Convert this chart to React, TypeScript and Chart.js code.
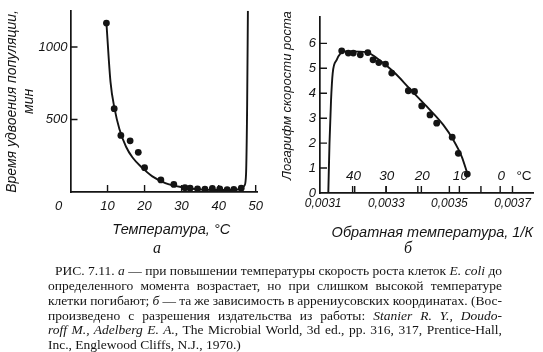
import React, { useEffect, useLayoutEffect, useRef } from "react";
import { Chart, registerables } from "chart.js";

Chart.register(...registerables);

// ---------- Panel "а": doubling time vs temperature ----------
const aTempC = [9.7, 11.8, 13.6, 16.1, 18.3, 20.0, 24.4, 27.9, 30.9, 32.3, 34.3, 36.3, 38.3, 40.3, 42.3, 44.1, 46.1];
const aDoublingMin = [1165, 575, 390, 353, 274, 168, 83, 52, 30, 26, 22, 20, 24, 22, 16, 18, 26];
const aFitTempC = [9.7, 10.8, 11.9, 13.2, 15.0, 16.75, 19.4, 22.1, 25.6, 30.1, 34.5, 38.9, 43.4, 46.1, 47.0, 47.4, 47.7, 47.9];
const aFitDoublingMin = [1165, 760, 575, 435, 312, 238, 166, 108, 62, 33, 18, 14, 14, 22, 46, 123, 605, 1250];
const aXTickLabels = [10, 20, 30, 40, 50];
const aXOriginLabel = "0";
const aYTickLabels = [500, 1000];
const aXTitle = "\u2002\u2002Температура, °C";
const aYTitle = ["Время удвоения популяции,", "мин"];

// ---------- Panel "б": Arrhenius coordinates ----------
const bInvT = [0.0031588, 0.0031797, 0.0031955, 0.0032177, 0.0032415, 0.003258, 0.0032763, 0.0032976, 0.0033172, 0.0033698, 0.0033895, 0.0034123, 0.0034386, 0.0034598, 0.0035089, 0.0035283, 0.0035568];
const bLogRate = [5.7, 5.61, 5.61, 5.54, 5.63, 5.34, 5.23, 5.17, 4.81, 4.1, 4.07, 3.49, 3.13, 2.8, 2.24, 1.59, 0.76];
const bFitInvT = [0.0031163, 0.0031201, 0.0031249, 0.0031302, 0.0031429, 0.0031556, 0.003165, 0.0031851, 0.003238, 0.0032697, 0.0033223, 0.0033752, 0.0034281, 0.0034807, 0.0035124, 0.0035391, 0.0035568];
const bFitLogRate = [0, 2.0, 3.7, 4.8, 5.34, 5.61, 5.68, 5.68, 5.65, 5.41, 4.87, 4.17, 3.47, 2.73, 2.13, 1.46, 0.79];
const bXTickLabels = [0.0031, 0.0033, 0.0035, 0.0037];
const bXTickMarks = [0.0032, 0.0033, 0.0034, 0.0035, 0.0036, 0.0037];
const bCelsius = [40, 30, 20, 10, 0];
const bCelsiusUnit = "°C";
const bYTickLabels = [0, 1, 2, 3, 4, 5, 6];
const bYTickMarks = [1, 2, 3, 4, 5, 6];
const bXTitle = "Обратная температура, 1/К";
const bYTitle = "\u2002\u2002Логарифм скорости роста";

// ---------- Caption ----------
type Seg = [string, boolean];
const CAPTION_LINES: { left: number; justify: boolean; segs: Seg[] }[] = [
  { left: 55, justify: true, segs: [["РИС. 7.11. ", false], ["а", true], [" — при повышении температуры скорость роста клеток ", false], ["E. coli", true], [" до", false]] },
  { left: 48, justify: true, segs: [["определенного момента возрастает, но при слишком высокой температуре", false]] },
  { left: 48, justify: true, segs: [["клетки погибают; ", false], ["б", true], [" — та же зависимость в аррениусовских координатах. (Вос-", false]] },
  { left: 48, justify: true, segs: [["произведено с разрешения издательства из работы: ", false], ["Stanier R. Y., Doudo-", true]] },
  { left: 48, justify: true, segs: [["roff M., Adelberg E. A.", true], [", The Microbial World, 3d ed., pp. 316, 317, Prentice-Hall,", false]] },
  { left: 48, justify: false, segs: [["Inc., Englewood Cliffs, N.J., 1970.)", false]] },
];
const CAPTION_RIGHT = 502;

const INK = "#141414";
const SANS = "'Liberation Sans', Arial, sans-serif";
const SERIF = "'Liberation Serif', 'Times New Roman', serif";
const ital = (size: number) => ({ family: SANS, size, style: "italic" as const, lineHeight: 1.2 });

type Lbl = { text: string; x: (c: any) => number; y: (c: any) => number; font: string };

function makeDecor(cfg: { xMarks: number[]; yMarks: number[]; len: number; labels: Lbl[] }) {
  return {
    id: "decor",
    afterDraw(chart: any) {
      const { ctx, chartArea: a } = chart;
      const xs = chart.scales.x;
      const ys = chart.scales.y;
      ctx.save();
      ctx.strokeStyle = INK;
      ctx.lineWidth = 1.4;
      ctx.beginPath();
      for (const v of cfg.xMarks) {
        const px = xs.getPixelForValue(v);
        ctx.moveTo(px, a.bottom);
        ctx.lineTo(px, a.bottom - cfg.len);
      }
      for (const v of cfg.yMarks) {
        const py = ys.getPixelForValue(v);
        ctx.moveTo(a.left, py);
        ctx.lineTo(a.left + cfg.len, py);
      }
      ctx.stroke();
      ctx.fillStyle = INK;
      ctx.textAlign = "center";
      ctx.textBaseline = "middle";
      for (const l of cfg.labels) {
        ctx.font = l.font;
        ctx.fillText(l.text, l.x(chart), l.y(chart));
      }
      ctx.restore();
    },
  };
}

function useChart(ref: React.RefObject<HTMLCanvasElement | null>, build: () => any) {
  useEffect(() => {
    if (!ref.current) return;
    const chart = new Chart(ref.current, build());
    return () => chart.destroy();
  }, []);
}

function PanelA() {
  const ref = useRef<HTMLCanvasElement>(null);
  useChart(ref, () => ({
    type: "scatter",
    data: {
      datasets: [
        {
          type: "scatter",
          data: aTempC.map((x, i) => ({ x, y: aDoublingMin[i] })),
          pointRadius: 3.4,
          pointBackgroundColor: INK,
          pointBorderWidth: 0,
        },
        {
          type: "line",
          data: aFitTempC.map((x, i) => ({ x, y: aFitDoublingMin[i] })),
          borderColor: INK,
          borderWidth: 1.9,
          pointRadius: 0,
          cubicInterpolationMode: "monotone",
          fill: false,
        },
      ],
    },
    options: {
      responsive: false,
      animation: false,
      devicePixelRatio: 1,
      events: [],
      layout: { padding: { left: 0, right: 10, top: 2, bottom: 0 } },
      plugins: { legend: { display: false }, tooltip: { enabled: false } },
      scales: {
        x: {
          type: "linear",
          position: "bottom",
          min: 0,
          max: 50.5,
          afterBuildTicks: (s: any) => { s.ticks = aXTickLabels.map((v) => ({ value: v })); },
          afterFit: (s: any) => { s.height = 63; },
          border: { display: true, color: INK, width: 1.7 },
          grid: { display: false, drawTicks: false },
          ticks: { color: INK, font: ital(13), padding: 7, maxRotation: 0, autoSkip: false, callback: (v: any) => String(v) },
          title: { display: true, text: aXTitle, color: INK, font: ital(14.5), padding: { top: 0, bottom: 16.3 } },
        },
        y: {
          type: "linear",
          position: "left",
          min: 0,
          max: 1250,
          afterBuildTicks: (s: any) => { s.ticks = aYTickLabels.map((v) => ({ value: v })); },
          afterFit: (s: any) => { s.width = 70.5; },
          border: { display: true, color: INK, width: 1.7 },
          grid: { display: false, drawTicks: false },
          ticks: { color: INK, font: ital(13), padding: 3, autoSkip: false, callback: (v: any) => String(v) },
          title: { display: true, text: aYTitle, color: INK, font: ital(14), padding: { top: 3.6, bottom: 0 } },
        },
      },
    },
    plugins: [
      makeDecor({
        xMarks: aXTickLabels,
        yMarks: aYTickLabels,
        len: 7,
        labels: [
          {
            text: aXOriginLabel,
            font: `italic 13px ${SANS}`,
            x: (c) => c.chartArea.left - 12,
            y: (c) => c.chartArea.bottom + 14.8,
          },
        ],
      }),
    ],
  }));
  return <canvas ref={ref} width={270} height={255} style={{ position: "absolute", left: 0, top: 0, width: 270, height: 255 }} />;
}

function PanelB() {
  const ref = useRef<HTMLCanvasElement>(null);
  useChart(ref, () => ({
    type: "scatter",
    data: {
      datasets: [
        {
          type: "scatter",
          data: bInvT.map((x, i) => ({ x, y: bLogRate[i] })),
          pointRadius: 3.4,
          pointBackgroundColor: INK,
          pointBorderWidth: 0,
        },
        {
          type: "line",
          data: bFitInvT.map((x, i) => ({ x, y: bFitLogRate[i] })),
          borderColor: INK,
          borderWidth: 1.9,
          pointRadius: 0,
          cubicInterpolationMode: "monotone",
          fill: false,
        },
      ],
    },
    options: {
      responsive: false,
      animation: false,
      devicePixelRatio: 1,
      events: [],
      layout: { padding: { left: 0, right: 10, top: 16.7, bottom: 0 } },
      plugins: { legend: { display: false }, tooltip: { enabled: false } },
      scales: {
        x: {
          type: "linear",
          position: "bottom",
          min: 0.00309,
          max: 0.003765,
          afterBuildTicks: (s: any) => { s.ticks = bXTickLabels.map((v) => ({ value: v })); },
          afterFit: (s: any) => { s.height = 62; },
          border: { display: true, color: INK, width: 1.7 },
          grid: { display: false, drawTicks: false },
          ticks: {
            color: INK,
            font: ital(12),
            padding: 3.8,
            maxRotation: 0,
            autoSkip: false,
            callback: (v: any) => Number(v).toFixed(4).replace(".", ","),
          },
          title: { display: true, text: bXTitle, align: "end", color: INK, font: ital(14.5), padding: { top: 0, bottom: 13.4 } },
        },
        y: {
          type: "linear",
          position: "left",
          min: 0,
          max: 7.07,
          afterBuildTicks: (s: any) => { s.ticks = bYTickLabels.map((v) => ({ value: v })); },
          afterFit: (s: any) => { s.width = 50; },
          border: { display: true, color: INK, width: 1.7 },
          grid: { display: false, drawTicks: false },
          ticks: { color: INK, font: ital(13), padding: 4, autoSkip: false, callback: (v: any) => String(v) },
          title: { display: true, text: bYTitle, align: "start", color: INK, font: ital(13), padding: { top: 9.7, bottom: 0 } },
        },
      },
    },
    plugins: [
      makeDecor({
        xMarks: [...bXTickMarks, ...bCelsius.map((c) => 1 / (c + 273.15))],
        yMarks: bYTickMarks,
        len: 7,
        labels: [
          ...bCelsius.map((c) => ({
            text: String(c),
            font: `italic 13.5px ${SANS}`,
            x: (ch: any) => ch.scales.x.getPixelForValue(1 / (c + 273.15)) + 1,
            y: (ch: any) => ch.chartArea.bottom - 16.5,
          })),
          {
            text: bCelsiusUnit,
            font: `13.5px ${SANS}`,
            x: (ch: any) => ch.chartArea.right - 9,
            y: (ch: any) => ch.chartArea.bottom - 16.5,
          },
        ],
      }),
    ],
  }));
  return <canvas ref={ref} width={273} height={255} style={{ position: "absolute", left: 270, top: 0, width: 273, height: 255 }} />;
}

function Caption() {
  const refs = useRef<(HTMLSpanElement | null)[]>([]);
  useLayoutEffect(() => {
    const fit = () => {
      refs.current.forEach((el, i) => {
        if (!el) return;
        const line = CAPTION_LINES[i];
        if (!line.justify) return;
        el.style.wordSpacing = "0px";
        const w = el.getBoundingClientRect().width;
        const n = ((el.textContent || "").match(/ /g) || []).length;
        if (n) el.style.wordSpacing = (CAPTION_RIGHT - line.left - w) / n + "px";
      });
    };
    fit();
    (document as any).fonts?.ready?.then(fit);
  }, []);
  return (
    <>
      {CAPTION_LINES.map((line, i) => (
        <span
          key={i}
          ref={(el) => { refs.current[i] = el; }}
          style={{
            position: "absolute",
            left: line.left,
            top: 264 + i * 14.85,
            whiteSpace: "pre",
            font: `13.5px/14.85px ${SERIF}`,
            color: INK,
          }}
        >
          {line.segs.map(([t, it], j) => (
            <span key={j} style={{ fontStyle: it ? "italic" : "normal" }}>{t}</span>
          ))}
        </span>
      ))}
    </>
  );
}

export default function App() {
  const letter = (text: string, x: number): React.ReactNode => (
    <span
      style={{
        position: "absolute",
        left: x,
        top: 248,
        transform: "translate(-50%, -50%)",
        font: `italic 16px ${SERIF}`,
        color: INK,
        lineHeight: 1,
      }}
    >
      {text}
    </span>
  );
  return (
    <div style={{ position: "absolute", left: 0, top: 0, width: 543, height: 352, background: "#fff", overflow: "hidden" }}>
      <PanelA />
      <PanelB />
      {letter("а", 157)}
      {letter("б", 408)}
      <Caption />
    </div>
  );
}
